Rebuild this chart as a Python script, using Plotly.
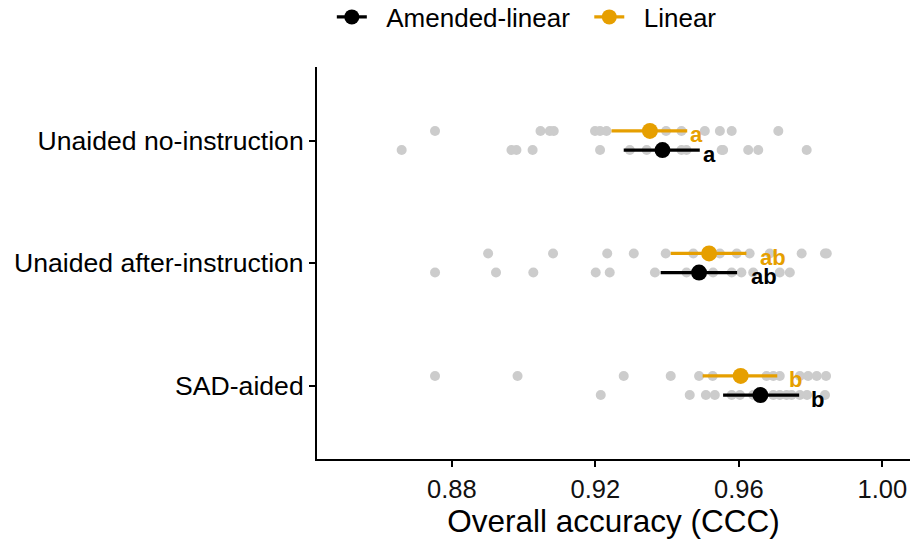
import plotly.graph_objects as go

categories = ["SAD-aided", "Unaided after-instruction", "Unaided no-instruction"]

# individual participant values (grey points)
linear_pts = {
    "Unaided no-instruction": [0.8753, 0.9047, 0.9073, 0.9084, 0.9199, 0.9213, 0.9231, 0.9350,
                               0.9397, 0.9440, 0.9505, 0.9547, 0.9580, 0.9710],
    "Unaided after-instruction": [0.8901, 0.9082, 0.9233, 0.9307, 0.9396, 0.9473, 0.9510, 0.9547,
                                  0.9594, 0.9630, 0.9686, 0.9775, 0.9840, 0.9845],
    "SAD-aided": [0.8753, 0.8983, 0.9279, 0.9410, 0.9489, 0.9527, 0.9600, 0.9677, 0.9696,
                  0.9714, 0.9770, 0.9793, 0.9817, 0.9843],
}
amended_pts = {
    "Unaided no-instruction": [0.8660, 0.8966, 0.8980, 0.9025, 0.9213, 0.9296, 0.9343, 0.9440,
                               0.9454, 0.9552, 0.9556, 0.9626, 0.9654, 0.9789],
    "Unaided after-instruction": [0.8753, 0.8923, 0.9027, 0.9201, 0.9240, 0.9366, 0.9454, 0.9482,
                                  0.9528, 0.9580, 0.9607, 0.9640, 0.9714, 0.9742],
    "SAD-aided": [0.9215, 0.9463, 0.9508, 0.9533, 0.9580, 0.9603, 0.9640, 0.9696, 0.9714,
                  0.9733, 0.9747, 0.9770, 0.9790, 0.9840],
}

# means and confidence intervals (order follows `categories`)
linear_mean = [0.9605, 0.9517, 0.9352]
linear_lo = [0.9499, 0.9410, 0.9245]
linear_hi = [0.9707, 0.9621, 0.9456]
linear_letters = ["b", "ab", "a"]

amended_mean = [0.9660, 0.9489, 0.9387]
amended_lo = [0.9556, 0.9382, 0.9279]
amended_hi = [0.9768, 0.9595, 0.9491]
amended_letters = ["b", "ab", "a"]

series_names = ["Amended-linear", "Linear"]

ORANGE = "#E69F00"
BLACK = "#000000"
GREY = "#CCCCCC"
DODGE = 0.078
FONT = "Liberation Sans, Arial, sans-serif"
LABEL_GAP = {"a": 1, "ab": 12, "b": 10}
NB = "\u00a0"

fig = go.Figure()

ypos = {c: i + 1 for i, c in enumerate(categories)}

# grey points
for pts, off in [(linear_pts, DODGE), (amended_pts, -DODGE)]:
    xs, ys = [], []
    for c in categories:
        xs += pts[c]
        ys += [ypos[c] + off] * len(pts[c])
    fig.add_trace(go.Scatter(x=xs, y=ys, mode="markers", showlegend=False, hoverinfo="skip",
                             marker=dict(color=GREY, size=10, line=dict(width=0))))

annotations = []
series = [
    (ORANGE, DODGE, linear_mean, linear_lo, linear_hi, linear_letters),
    (BLACK, -DODGE, amended_mean, amended_lo, amended_hi, amended_letters),
]
for col, off, mean, lo, hi, letters in series:
    for i, c in enumerate(categories):
        y = ypos[c] + off
        fig.add_trace(go.Scatter(x=[lo[i], hi[i]], y=[y, y], mode="lines", showlegend=False,
                                 hoverinfo="skip", line=dict(color=col, width=3.2)))
        annotations.append(dict(x=hi[i], y=y, xref="x", yref="y", text="<b>%s</b>" % letters[i],
                                showarrow=False, xanchor="left", yanchor="middle",
                                xshift=LABEL_GAP[letters[i]], yshift=-4,
                                font=dict(family=FONT, size=22, color=col)))
    fig.add_trace(go.Scatter(x=mean, y=[ypos[c] + off for c in categories], mode="markers",
                             showlegend=False, marker=dict(color=col, size=16, line=dict(width=0))))

# legend entries
for name, col in zip(series_names, [BLACK, ORANGE]):
    fig.add_trace(go.Scatter(x=[None], y=[None], mode="lines+markers",
                             name=NB * 2 + name + NB * 2,
                             line=dict(color=col, width=3.2), marker=dict(color=col, size=15)))

fig.update_layout(
    width=910, height=539,
    margin=dict(l=317, r=0, t=67, b=80, autoexpand=False),
    plot_bgcolor="white", paper_bgcolor="white",
    font=dict(family=FONT, size=26, color="black"),
    showlegend=True,
    legend=dict(orientation="h", x=0.025, xanchor="left",
                y=1 + (67 - 17) / 392, yanchor="middle",
                font=dict(size=26, color="black"),
                itemwidth=30, traceorder="normal", tracegroupgap=0),
    annotations=annotations,
    xaxis=dict(range=[0.8424, 1.0077], tickvals=[0.88, 0.92, 0.96, 1.00],
               ticktext=["0.88", "0.92", "0.96", "1.00"],
               showgrid=False, zeroline=False, showline=True, linecolor="black", linewidth=2,
               ticks="outside", ticklen=6, tickwidth=1.6, tickcolor="black",
               tickfont=dict(size=25.5, color="#111111"), automargin=False,
               title=dict(text="Overall accuracy (CCC)", font=dict(size=31.5), standoff=4)),
    yaxis=dict(range=[0.4, 3.6], tickvals=[1, 2, 3], ticktext=categories, automargin=False,
               showgrid=False, zeroline=False, showline=True, linecolor="black", linewidth=2,
               ticks="outside", ticklen=6, tickwidth=1.6, tickcolor="black",
               tickfont=dict(size=26.6, color="black")),
)

fig.write_html("out.html")
